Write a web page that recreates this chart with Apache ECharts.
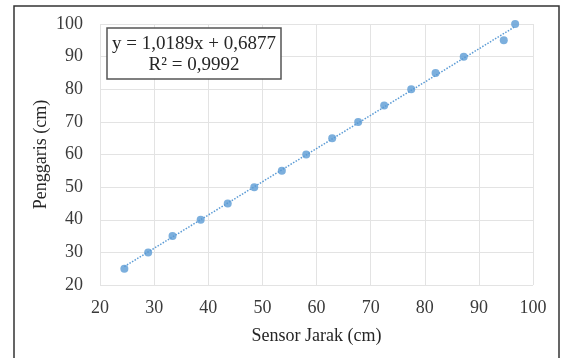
<!DOCTYPE html>
<html>
<head>
<meta charset="utf-8">
<script src="https://cdn.jsdelivr.net/npm/echarts@6/dist/echarts.min.js"></script>
<style>
  html, body { margin: 0; padding: 0; background: #fff; }
  #chart { width: 561px; height: 358px; }
</style>
</head>
<body>
<div id="chart"></div>
<script>
// measured points (sensor vs ruler)
const sensorJarak = [24.5, 28.9, 33.4, 38.6, 43.6, 48.5, 53.6, 58.1, 62.9, 67.7, 72.5, 77.5, 82.0, 87.2, 94.6, 96.7];
const penggaris   = [25, 30, 35, 40, 45, 50, 55, 60, 65, 70, 75, 80, 85, 90, 95, 100];

// linear trendline as reported in the chart
const slope = 1.0189;
const intercept = 0.6877;
const rSquared = '0,9992';
const eqLabel = 'y = 1,0189x + 0,6877';

const xTicks = [20, 30, 40, 50, 60, 70, 80, 90, 100];
const yTicks = [20, 30, 40, 50, 60, 70, 80, 90, 100];

const points = sensorJarak.map((x, i) => [x, penggaris[i]]);
const xMin = Math.min(...sensorJarak);
const xMax = Math.max(...sensorJarak);
const trend = [[xMin, slope * xMin + intercept], [xMax, slope * xMax + intercept]];

const font = '"Liberation Serif", "Times New Roman", serif';
const blue = '#5b9bd5';

const chart = echarts.init(document.getElementById('chart'));
chart.setOption({
  animation: false,
  grid: { left: 100, right: 28, top: 24, bottom: 73 },
  xAxis: {
    type: 'value',
    min: xTicks[0],
    max: xTicks[xTicks.length - 1],
    interval: 10,
    name: 'Sensor Jarak (cm)',
    nameLocation: 'middle',
    nameGap: 42,
    nameMoveOverlap: false,
    nameTextStyle: { fontFamily: font, fontSize: 18, color: '#262626' },
    axisLine: { show: false },
    axisTick: { show: false },
    axisLabel: { fontFamily: font, fontSize: 18, color: '#3a3a3a', margin: 14 },
    splitLine: { lineStyle: { color: '#e3e3e3', width: 1 } }
  },
  yAxis: {
    type: 'value',
    min: yTicks[0],
    max: yTicks[yTicks.length - 1],
    interval: 10,
    name: 'Penggaris (cm)',
    nameLocation: 'middle',
    nameGap: 50,
    nameMoveOverlap: false,
    nameRotate: 90,
    nameTextStyle: { fontFamily: font, fontSize: 18, color: '#262626' },
    axisLine: { show: false },
    axisTick: { show: false },
    axisLabel: { fontFamily: font, fontSize: 18, color: '#3a3a3a', margin: 17 },
    splitLine: { lineStyle: { color: '#e3e3e3', width: 1 } }
  },
  series: [
    {
      type: 'line',
      data: trend,
      symbol: 'none',
      lineStyle: { color: blue, width: 1.5, type: [1.5, 1.5] },
      z: 1
    },
    {
      type: 'scatter',
      data: points,
      symbolSize: 8,
      itemStyle: { color: blue },
      z: 2
    }
  ],
  graphic: [
    {
      type: 'rect',
      shape: { x: 14, y: 6, width: 545, height: 360 },
      style: { fill: null, stroke: '#333', lineWidth: 1.5 },
      silent: true
    },
    {
      type: 'rect',
      shape: { x: 107, y: 28, width: 174, height: 51 },
      style: { fill: '#fff', stroke: '#555', lineWidth: 1.5 },
      z: 10
    },
    {
      type: 'text',
      x: 194, y: 44,
      style: { text: eqLabel, font: '19px ' + font, fill: '#262626', align: 'center', verticalAlign: 'middle' },
      z: 11
    },
    {
      type: 'text',
      x: 194, y: 65,
      style: { text: 'R² = ' + rSquared, font: '19px ' + font, fill: '#262626', align: 'center', verticalAlign: 'middle' },
      z: 11
    }
  ]
});
</script>
</body>
</html>
